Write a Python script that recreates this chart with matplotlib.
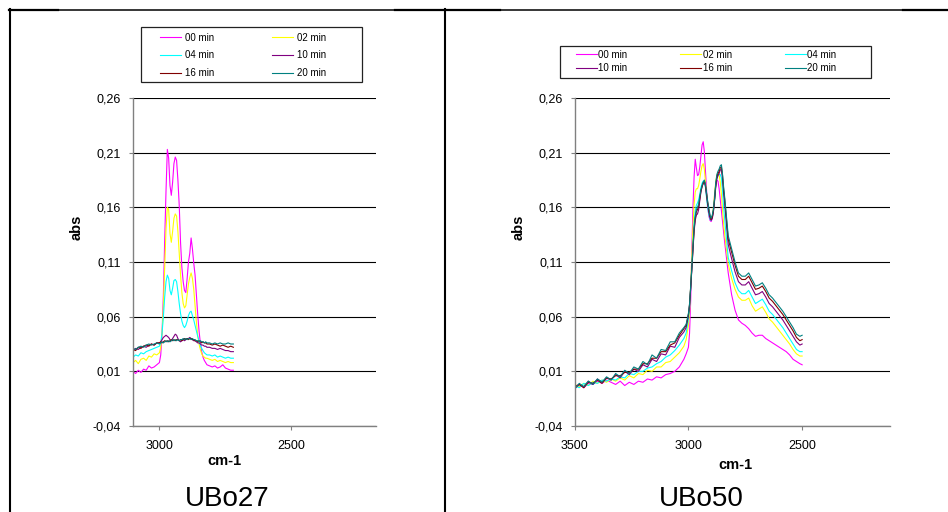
import matplotlib
matplotlib.use("Agg")
import matplotlib.pyplot as plt
from matplotlib.lines import Line2D
from matplotlib.patches import Rectangle
from matplotlib.ticker import FixedLocator, FuncFormatter, MultipleLocator

plt.rcParams['font.family'] = ['Liberation Sans', 'DejaVu Sans']

W, H = 948, 512

labels = ["00 min", "02 min", "04 min", "10 min", "16 min", "20 min"]
colors = ["#ff00ff", "#ffff00", "#00ffff", "#800080", "#800000", "#008080"]
y_ticks = [-0.04, 0.01, 0.06, 0.11, 0.16, 0.21, 0.26]

# UBo27 spectra (wavenumber, cm-1)
ubo27_wn = [3100, 3090, 3080, 3070, 3060, 3050, 3040, 3030, 3020, 3010,
            3000, 2995, 2990, 2985, 2980, 2975, 2970, 2965, 2960, 2955,
            2950, 2945, 2940, 2935, 2930, 2925, 2920, 2915, 2910, 2905,
            2900, 2895, 2890, 2885, 2880, 2875, 2870, 2865, 2860, 2855,
            2850, 2845, 2840, 2835, 2830, 2825, 2820,
            2810, 2800, 2790, 2780, 2770, 2760, 2750, 2740, 2730, 2720]
ubo27_00 = [0.010, 0.008, 0.011, 0.009, 0.012, 0.011, 0.015, 0.013, 0.014, 0.016,
            0.018, 0.025, 0.045, 0.080, 0.130, 0.175, 0.213, 0.205, 0.180, 0.171,
            0.183, 0.200, 0.206, 0.203, 0.185, 0.162, 0.128, 0.105, 0.092, 0.084,
            0.082, 0.095, 0.110, 0.118, 0.132, 0.122, 0.109, 0.098, 0.080, 0.062,
            0.047, 0.036, 0.028, 0.023, 0.020, 0.018, 0.016,
            0.015, 0.014, 0.015, 0.013, 0.014, 0.016, 0.013, 0.012, 0.011, 0.011]
ubo27_02 = [0.018, 0.020, 0.017, 0.021, 0.022, 0.020, 0.024, 0.023, 0.026, 0.025,
            0.027, 0.032, 0.045, 0.070, 0.105, 0.140, 0.160, 0.158, 0.136, 0.128,
            0.138, 0.150, 0.154, 0.152, 0.138, 0.118, 0.098, 0.082, 0.072, 0.068,
            0.070, 0.080, 0.090, 0.096, 0.100, 0.095, 0.085, 0.070, 0.055, 0.043,
            0.035, 0.030, 0.026, 0.024, 0.023, 0.022, 0.022,
            0.021, 0.020, 0.021, 0.019, 0.020, 0.019, 0.018, 0.019, 0.018, 0.018]
ubo27_04 = [0.023, 0.025, 0.024, 0.027, 0.026, 0.028, 0.029, 0.030, 0.031, 0.032,
            0.033, 0.036, 0.045, 0.060, 0.078, 0.092, 0.098, 0.095, 0.084, 0.080,
            0.086, 0.093, 0.094, 0.092, 0.083, 0.072, 0.063, 0.056, 0.052, 0.050,
            0.052, 0.056, 0.061, 0.064, 0.065, 0.061, 0.057, 0.052, 0.047, 0.042,
            0.038, 0.034, 0.031, 0.029, 0.027, 0.026, 0.025,
            0.025, 0.024, 0.025, 0.023, 0.024, 0.023, 0.022, 0.023, 0.022, 0.022]
ubo27_10 = [0.029, 0.031, 0.030, 0.032, 0.033, 0.032, 0.034, 0.035, 0.034, 0.036,
            0.036, 0.037, 0.039, 0.041, 0.042, 0.043, 0.042, 0.041, 0.039, 0.038,
            0.040, 0.042, 0.044, 0.043, 0.040, 0.038, 0.037, 0.038, 0.039, 0.038,
            0.039, 0.040, 0.040, 0.041, 0.040, 0.039, 0.038, 0.038, 0.037, 0.036,
            0.036, 0.035, 0.034, 0.034, 0.033, 0.033, 0.032,
            0.032, 0.031, 0.031, 0.030, 0.031, 0.030, 0.029, 0.029, 0.028, 0.028]
ubo27_16 = [0.030, 0.029, 0.032, 0.031, 0.033, 0.034, 0.033, 0.035, 0.034, 0.036,
            0.036, 0.037, 0.036, 0.037, 0.038, 0.037, 0.038, 0.037, 0.038, 0.039,
            0.038, 0.039, 0.038, 0.039, 0.039, 0.038, 0.039, 0.038, 0.039, 0.040,
            0.039, 0.040, 0.039, 0.040, 0.040, 0.039, 0.039, 0.038, 0.038, 0.037,
            0.038, 0.037, 0.036, 0.037, 0.036, 0.036, 0.035,
            0.035, 0.034, 0.035, 0.034, 0.033, 0.034, 0.033, 0.032, 0.033, 0.032]
ubo27_20 = [0.031, 0.030, 0.032, 0.033, 0.032, 0.034, 0.035, 0.034, 0.035, 0.036,
            0.035, 0.036, 0.037, 0.036, 0.037, 0.038, 0.037, 0.038, 0.037, 0.038,
            0.039, 0.038, 0.039, 0.038, 0.039, 0.038, 0.039, 0.039, 0.040, 0.039,
            0.040, 0.039, 0.040, 0.040, 0.039, 0.040, 0.039, 0.039, 0.038, 0.038,
            0.037, 0.038, 0.037, 0.037, 0.036, 0.037, 0.036,
            0.036, 0.035, 0.036, 0.035, 0.036, 0.035, 0.035, 0.036, 0.035, 0.035]

# UBo50 spectra
ubo50_wn = [3500, 3480, 3460, 3440, 3420, 3400, 3380, 3360, 3340, 3320,
            3300, 3280, 3260, 3240, 3220, 3200, 3180, 3160, 3140, 3120,
            3100, 3080, 3060, 3040, 3020,
            3010, 3000, 2995, 2990, 2985, 2980, 2975, 2970, 2965, 2960,
            2955, 2950, 2945, 2940, 2935, 2930, 2925, 2920, 2915, 2910,
            2905, 2900, 2895, 2890, 2885, 2880, 2875, 2870, 2865, 2860,
            2855, 2850, 2845, 2840,
            2825, 2810, 2795, 2780, 2765, 2750, 2735, 2720, 2705, 2690,
            2675, 2660, 2645, 2630, 2615, 2600, 2585, 2570, 2555, 2540,
            2525, 2510, 2500]
ubo50_00 = [-0.004, -0.002, -0.005, -0.001, -0.002, 0.001, -0.001, 0.002, 0.000, -0.002,
            0.001, -0.003, 0.000, -0.002, 0.001, 0.000, 0.003, 0.002, 0.005, 0.004,
            0.007, 0.008, 0.010, 0.014, 0.021,
            0.026, 0.032, 0.045, 0.075, 0.120, 0.160, 0.188, 0.204, 0.196, 0.189,
            0.190, 0.197, 0.207, 0.217, 0.220, 0.211, 0.193, 0.175, 0.161, 0.152,
            0.148, 0.147, 0.150, 0.159, 0.171, 0.180, 0.185, 0.184, 0.177, 0.167,
            0.157, 0.147, 0.137, 0.127,
            0.100, 0.080, 0.066, 0.057, 0.054, 0.052, 0.049, 0.045, 0.042, 0.043,
            0.043, 0.040, 0.038, 0.036, 0.034, 0.032, 0.030, 0.028, 0.025, 0.021,
            0.019, 0.017, 0.016]
ubo50_02 = [-0.002, -0.004, -0.001, -0.003, 0.001, -0.001, 0.002, 0.000, 0.003, 0.001,
            0.004, 0.002, 0.006, 0.004, 0.008, 0.007, 0.011, 0.010, 0.014, 0.014,
            0.018, 0.019, 0.023, 0.027, 0.033,
            0.039, 0.052, 0.064, 0.088, 0.115, 0.142, 0.163, 0.174, 0.177, 0.177,
            0.180, 0.186, 0.193, 0.198, 0.200, 0.195, 0.183, 0.172, 0.162, 0.155,
            0.150, 0.149, 0.152, 0.160, 0.172, 0.183, 0.189, 0.191, 0.190, 0.183,
            0.172, 0.158, 0.144, 0.134,
            0.108, 0.095, 0.085, 0.078, 0.075, 0.075, 0.077, 0.070, 0.065, 0.067,
            0.069, 0.064, 0.058, 0.055, 0.051, 0.047, 0.043, 0.039, 0.035, 0.030,
            0.026, 0.024, 0.024]
ubo50_04 = [-0.003, -0.005, -0.001, -0.003, 0.000, -0.001, 0.002, 0.001, 0.003, 0.002,
            0.005, 0.004, 0.008, 0.007, 0.010, 0.010, 0.013, 0.014, 0.017, 0.019,
            0.023, 0.025, 0.029, 0.034, 0.040,
            0.045, 0.058, 0.068, 0.086, 0.106, 0.126, 0.145, 0.157, 0.162, 0.164,
            0.167, 0.172, 0.178, 0.182, 0.184, 0.184, 0.178, 0.168, 0.159, 0.153,
            0.149, 0.148, 0.151, 0.158, 0.168, 0.180, 0.187, 0.189, 0.190, 0.190,
            0.187, 0.175, 0.160, 0.148,
            0.114, 0.102, 0.091, 0.084, 0.081, 0.081, 0.084, 0.078, 0.072, 0.074,
            0.076, 0.071, 0.065, 0.062, 0.058, 0.054, 0.050, 0.045, 0.040, 0.035,
            0.030, 0.028, 0.028]
ubo50_10 = [-0.006, -0.002, -0.004, 0.001, -0.002, 0.003, 0.000, 0.004, 0.002, 0.007,
            0.004, 0.010, 0.007, 0.012, 0.010, 0.016, 0.014, 0.021, 0.019, 0.026,
            0.025, 0.033, 0.032, 0.041, 0.046,
            0.050, 0.061, 0.070, 0.086, 0.103, 0.121, 0.138, 0.148, 0.153, 0.154,
            0.158, 0.166, 0.174, 0.179, 0.182, 0.184, 0.179, 0.170, 0.162, 0.155,
            0.150, 0.148, 0.150, 0.156, 0.166, 0.178, 0.186, 0.189, 0.191, 0.194,
            0.195, 0.186, 0.173, 0.162,
            0.126, 0.113, 0.101, 0.092, 0.089, 0.089, 0.092, 0.086, 0.080, 0.081,
            0.083, 0.078, 0.072, 0.069, 0.065, 0.061, 0.057, 0.052, 0.047, 0.042,
            0.037, 0.034, 0.035]
ubo50_16 = [-0.004, -0.002, -0.005, 0.000, -0.001, 0.002, -0.001, 0.004, 0.003, 0.006,
            0.006, 0.009, 0.009, 0.012, 0.012, 0.017, 0.017, 0.022, 0.022, 0.028,
            0.028, 0.034, 0.036, 0.043, 0.049,
            0.052, 0.062, 0.071, 0.087, 0.104, 0.122, 0.140, 0.150, 0.156, 0.158,
            0.161, 0.168, 0.175, 0.179, 0.182, 0.184, 0.180, 0.172, 0.164, 0.157,
            0.152, 0.149, 0.151, 0.157, 0.167, 0.180, 0.188, 0.191, 0.193, 0.196,
            0.197, 0.189, 0.176, 0.166,
            0.131, 0.119, 0.107, 0.097, 0.094, 0.094, 0.097, 0.091, 0.085, 0.086,
            0.088, 0.083, 0.077, 0.074, 0.070, 0.066, 0.062, 0.057, 0.052, 0.047,
            0.041, 0.038, 0.039]
ubo50_20 = [-0.006, -0.001, -0.004, 0.001, -0.002, 0.003, 0.000, 0.005, 0.002, 0.008,
            0.005, 0.011, 0.008, 0.014, 0.012, 0.019, 0.016, 0.025, 0.022, 0.030,
            0.029, 0.037, 0.037, 0.045, 0.050,
            0.053, 0.063, 0.072, 0.088, 0.105, 0.124, 0.142, 0.152, 0.158, 0.160,
            0.163, 0.170, 0.176, 0.180, 0.183, 0.185, 0.181, 0.173, 0.165, 0.159,
            0.153, 0.150, 0.153, 0.158, 0.168, 0.182, 0.190, 0.193, 0.195, 0.198,
            0.199, 0.190, 0.178, 0.168,
            0.134, 0.122, 0.110, 0.100, 0.097, 0.097, 0.100, 0.094, 0.088, 0.089,
            0.091, 0.086, 0.080, 0.077, 0.073, 0.069, 0.065, 0.060, 0.055, 0.050,
            0.044, 0.042, 0.043]


def fx(px):
    return px / W


def fy(py):
    return 1 - py / H


def px_box(x0, y0, x1, y1):
    return [fx(x0), fy(y1), (x1 - x0) / W, (y1 - y0) / H]


def style_axes(ax, xlim):
    ax.set_xlim(*xlim)
    ax.set_ylim(y_ticks[0], y_ticks[-1])
    ax.yaxis.set_major_locator(FixedLocator(y_ticks))
    ax.yaxis.set_major_formatter(FuncFormatter(lambda v, _: f"{v:.2f}".replace(".", ",")))
    ax.xaxis.set_major_locator(MultipleLocator(500))
    ax.xaxis.set_major_formatter(FuncFormatter(lambda v, _: f"{v:.0f}"))
    ax.set_axisbelow(True)
    ax.grid(axis="y", color="black", linewidth=0.8)
    for side in ("top", "right"):
        ax.spines[side].set_visible(False)
    for side in ("left", "bottom"):
        ax.spines[side].set_color("#808080")
        ax.spines[side].set_linewidth(1.0)
    ax.tick_params(axis="both", direction="out", length=3, width=0.8,
                   color="#808080", labelsize=9, labelcolor="black")
    ax.tick_params(axis="y", pad=5.5)
    ax.tick_params(axis="x", pad=7.2)


def add_legend(ax, handles, order, ncol, anchor, frame, colspace, rowspace, textpad):
    leg = ax.legend([handles[i] for i in order], [labels[i] for i in order],
                    ncol=ncol, loc="upper left", bbox_to_anchor=anchor,
                    bbox_transform=fig.transFigure, frameon=False, fontsize=7,
                    borderpad=0, handlelength=2.2, handletextpad=textpad,
                    columnspacing=colspace, labelspacing=rowspace)
    x0, y0, x1, y1 = frame
    fig.patches.append(Rectangle((fx(x0), fy(y1)), (x1 - x0) / W, (y1 - y0) / H,
                                 transform=fig.transFigure, fill=False,
                                 edgecolor="#222222", linewidth=0.9))
    return leg


fig = plt.figure(figsize=(W / 100, H / 100), dpi=100)

# page table borders around the two charts
fig.add_artist(Line2D([fx(9), fx(948)], [fy(9.5), fy(9.5)], color="black", lw=1.1))
for a, b in [(9, 58), (395, 500), (903, 948)]:
    fig.add_artist(Line2D([fx(a), fx(b)], [fy(10), fy(10)], color="black", lw=1.6))
for xv in (10, 444.5):
    fig.add_artist(Line2D([fx(xv), fx(xv)], [fy(9), fy(512)], color="black", lw=1.5))

ax1 = fig.add_axes(px_box(133, 98, 376, 426))
ax2 = fig.add_axes(px_box(574.7, 98, 889.7, 426))
style_axes(ax1, (3100, 2180))
style_axes(ax2, (3500, 2115))

h1 = []
for ys, c in zip([ubo27_00, ubo27_02, ubo27_04, ubo27_10, ubo27_16, ubo27_20], colors):
    h1 += ax1.plot(ubo27_wn, ys, color=c, lw=0.8)
h2 = []
for ys, c in zip([ubo50_00, ubo50_02, ubo50_04, ubo50_10, ubo50_16, ubo50_20], colors):
    h2 += ax2.plot(ubo50_wn, ys, color=c, lw=0.8)

add_legend(ax1, h1, [0, 2, 4, 1, 3, 5], 2, (fx(155), fy(28)),
           (141, 27, 362, 82), 5.9, 0.78, 0.4)
add_legend(ax2, h2, [0, 3, 1, 4, 2, 5], 3, (fx(570.7), fy(45)),
           (560, 46, 871, 78), 5.4, 0.36, 0.15)

# axis titles and sample names
fig.text(fx(76.7), fy(227.7), "abs", rotation=90, ha="center", va="center",
         fontsize=10.5, fontweight="bold")
fig.text(fx(518.3), fy(227.7), "abs", rotation=90, ha="center", va="center",
         fontsize=10.5, fontweight="bold")
fig.text(fx(224), fy(460.7), "cm-1", ha="center", va="center",
         fontsize=10.5, fontweight="bold")
fig.text(fx(735), fy(465), "cm-1", ha="center", va="center",
         fontsize=10.5, fontweight="bold")
fig.text(fx(226.7), fy(506), "UBo27", ha="center", va="baseline", fontsize=20)
fig.text(fx(701.8), fy(506), "UBo50", ha="center", va="baseline", fontsize=20)

fig.savefig("out.png", dpi=100)
